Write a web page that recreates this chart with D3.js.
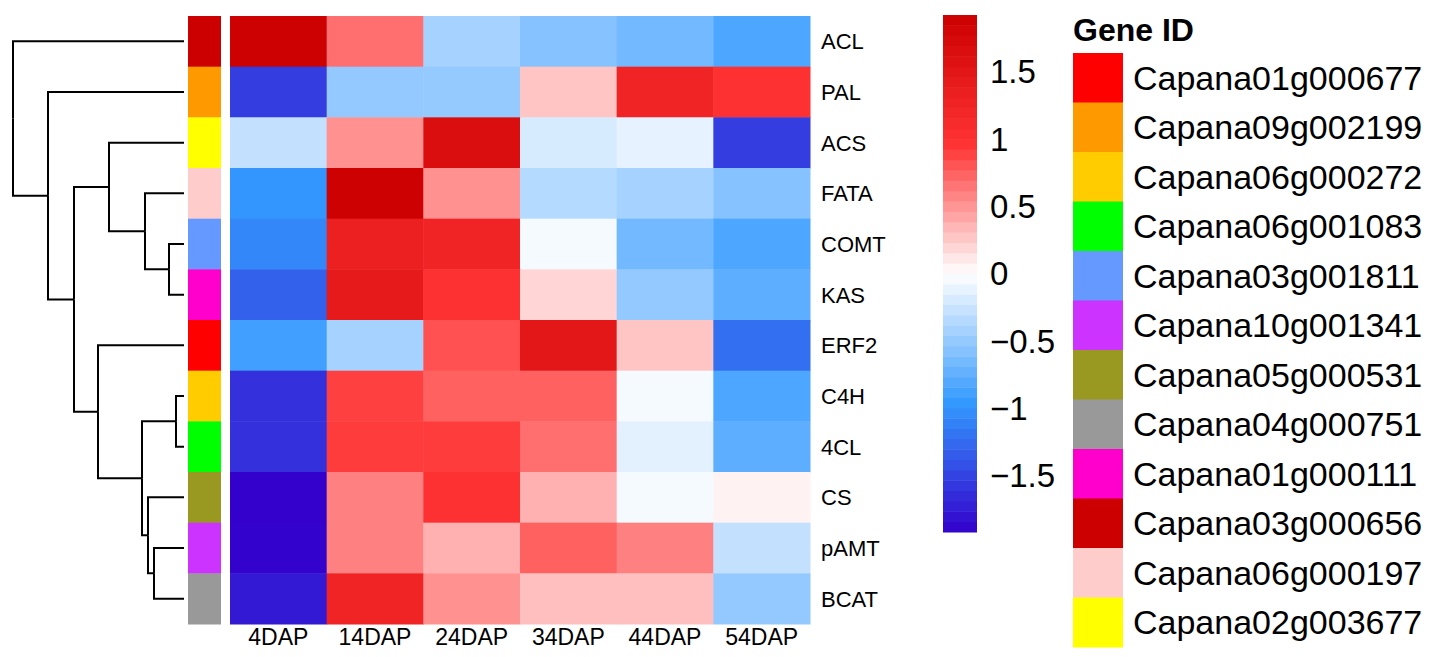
<!DOCTYPE html>
<html>
<head>
<meta charset="utf-8">
<script src="https://d3js.org/d3.v7.min.js"></script>
<style>
  body { margin: 0; background: #fff; }
  text { font-family: Arial, "Liberation Sans", sans-serif; fill: #000; }
</style>
</head>
<body>
<svg id="chart" width="1429" height="657"></svg>
<script>
// ---- data ----
const stages = ["4DAP", "14DAP", "24DAP", "34DAP", "44DAP", "54DAP"];
const genes = ["ACL", "PAL", "ACS", "FATA", "COMT", "KAS", "ERF2", "C4H", "4CL", "CS", "pAMT", "BCAT"];
// row-scaled expression (z-score)
const values = [
  [1.90, 0.68, -0.42, -0.57, -0.66, -0.84],
  [-1.54, -0.51, -0.50, 0.28, 1.24, 1.00],
  [-0.28, 0.52, 1.66, -0.19, -0.12, -1.54],
  [-0.98, 1.90, 0.52, -0.35, -0.42, -0.57],
  [-1.07, 1.32, 1.25, -0.05, -0.66, -0.84],
  [-1.31, 1.43, 1.00, 0.20, -0.51, -0.76],
  [-0.90, -0.42, 0.82, 1.49, 0.28, -1.22],
  [-1.62, 0.90, 0.75, 0.75, -0.05, -0.84],
  [-1.62, 0.92, 0.92, 0.68, -0.13, -0.76],
  [-1.92, 0.60, 1.00, 0.37, -0.05, 0.06],
  [-1.90, 0.60, 0.37, 0.75, 0.60, -0.28],
  [-1.77, 1.25, 0.52, 0.30, 0.30, -0.51]
];
const geneIds = ["Capana01g000677", "Capana09g002199", "Capana06g000272", "Capana06g001083",
  "Capana03g001811", "Capana10g001341", "Capana05g000531", "Capana04g000751",
  "Capana01g000111", "Capana03g000656", "Capana06g000197", "Capana02g003677"];
const idColors = ["#FF0000", "#FF9900", "#FFCC00", "#00FF00", "#6699FF", "#CC33FF",
  "#999922", "#999999", "#FF00CC", "#CC0000", "#FFCCCC", "#FFFF00"];
// gene -> Gene ID of each row
const rowIds = ["Capana03g000656", "Capana09g002199", "Capana02g003677", "Capana06g000197",
  "Capana03g001811", "Capana01g000111", "Capana01g000677", "Capana06g000272",
  "Capana06g001083", "Capana05g000531", "Capana10g001341", "Capana04g000751"];
const barTicks = [-1.5, -1, -0.5, 0, 0.5, 1, 1.5];
// row clustering tree (merge heights)
const tree = {h: 171, children: [
  {name: "ACL"},
  {h: 136, children: [
    {name: "PAL"},
    {h: 110, children: [
      {h: 75, children: [
        {name: "ACS"},
        {h: 39, children: [
          {name: "FATA"},
          {h: 15, children: [{name: "COMT"}, {name: "KAS"}]}
        ]}
      ]},
      {h: 86, children: [
        {name: "ERF2"},
        {h: 42, children: [
          {h: 8, children: [{name: "C4H"}, {name: "4CL"}]},
          {h: 36, children: [
            {name: "CS"},
            {h: 30, children: [{name: "pAMT"}, {name: "BCAT"}]}
          ]}
        ]}
      ]}
    ]}
  ]}
]};

// ---- layout ----
const svg = d3.select("#chart");
const heat = {left: 230, right: 810, top: 16, bottom: 624};
const annoX = 188, annoW = 33;

const x = d3.scaleBand().domain(stages).range([heat.left, heat.right]);
const y = d3.scaleBand().domain(genes).range([heat.top, heat.bottom]);
const color = d3.scaleLinear()
  .domain([-1.92, -0.96, 0, 0.96, 1.92])
  .range(["#3300CC", "#3399FF", "#FFFFFF", "#FF3333", "#CC0000"])
  .clamp(true);

// heatmap cells
const cells = [];
genes.forEach((g, i) => stages.forEach((s, j) => cells.push({g, s, v: values[i][j]})));
svg.append("g").selectAll("rect").data(cells).join("rect")
  .attr("x", d => x(d.s))
  .attr("y", d => y(d.g))
  .attr("width", x.bandwidth() + 0.5)
  .attr("height", y.bandwidth() + 0.5)
  .attr("fill", d => color(d.v));

// annotation column
const idColor = d3.scaleOrdinal().domain(geneIds).range(idColors);
svg.append("g").selectAll("rect").data(genes).join("rect")
  .attr("x", annoX)
  .attr("y", g => y(g))
  .attr("width", annoW)
  .attr("height", y.bandwidth() + 0.5)
  .attr("fill", (g, i) => idColor(rowIds[i]));

// row labels
svg.append("g").selectAll("text").data(genes).join("text")
  .attr("x", heat.right + 11)
  .attr("y", g => y(g) + y.bandwidth() / 2)
  .attr("dy", "0.36em")
  .attr("font-size", 22)
  .text(g => g);

// column labels
svg.append("g").selectAll("text").data(stages).join("text")
  .attr("x", s => x(s) + x.bandwidth() / 2)
  .attr("y", 645)
  .attr("text-anchor", "middle")
  .attr("font-size", 23)
  .text(s => s);

// dendrogram
const root = d3.hierarchy(tree);
const hx = d3.scaleLinear().domain([0, 171]).range([184, 13]);
root.eachAfter(n => {
  if (!n.children) { n.py = y(n.data.name) + y.bandwidth() / 2; n.px = hx(0); }
  else { n.py = d3.mean(n.children, c => c.py); n.px = hx(n.data.h); }
});
const links = [];
root.each(n => {
  if (n.children) n.children.forEach(c => links.push({s: n, t: c}));
});
svg.append("g").selectAll("path").data(links).join("path")
  .attr("fill", "none")
  .attr("stroke", "#000")
  .attr("stroke-width", 2)
  .attr("d", l => `M${l.s.px},${l.s.py}V${l.t.py}H${l.t.px}`);

// colour bar
const bar = {x: 943, w: 34, top: 15, bottom: 532};
const bv = d3.scaleLinear().domain([-1.92, 1.92]).range([bar.bottom, bar.top]);
const nBands = 50;
const bands = d3.range(nBands).map(i => -1.92 + (i + 0.5) * 3.84 / nBands);
const bandH = (bar.bottom - bar.top) / nBands;
svg.append("g").selectAll("rect").data(bands).join("rect")
  .attr("x", bar.x)
  .attr("y", v => bv(v) - bandH / 2)
  .attr("width", bar.w)
  .attr("height", bandH + 0.5)
  .attr("fill", v => color(v));
svg.append("g").selectAll("text").data(barTicks).join("text")
  .attr("x", 990)
  .attr("y", v => bv(v))
  .attr("dy", "0.36em")
  .attr("font-size", 33)
  .text(v => d3.format("")(v).replace("-", "\u2212"));

// legend
svg.append("text")
  .attr("x", 1073)
  .attr("y", 41)
  .attr("font-size", 32)
  .attr("font-weight", "bold")
  .text("Gene ID");
const ly = d3.scaleBand().domain(geneIds).range([53, 647]);
const leg = svg.append("g").selectAll("g").data(geneIds).join("g")
  .attr("transform", d => `translate(0,${ly(d)})`);
leg.append("rect")
  .attr("x", 1073)
  .attr("width", 50)
  .attr("height", ly.bandwidth() + 0.5)
  .attr("fill", d => idColor(d));
leg.append("text")
  .attr("x", 1133)
  .attr("y", ly.bandwidth() / 2)
  .attr("dy", "0.36em")
  .attr("font-size", 34)
  .text(d => d);
</script>
</body>
</html>
